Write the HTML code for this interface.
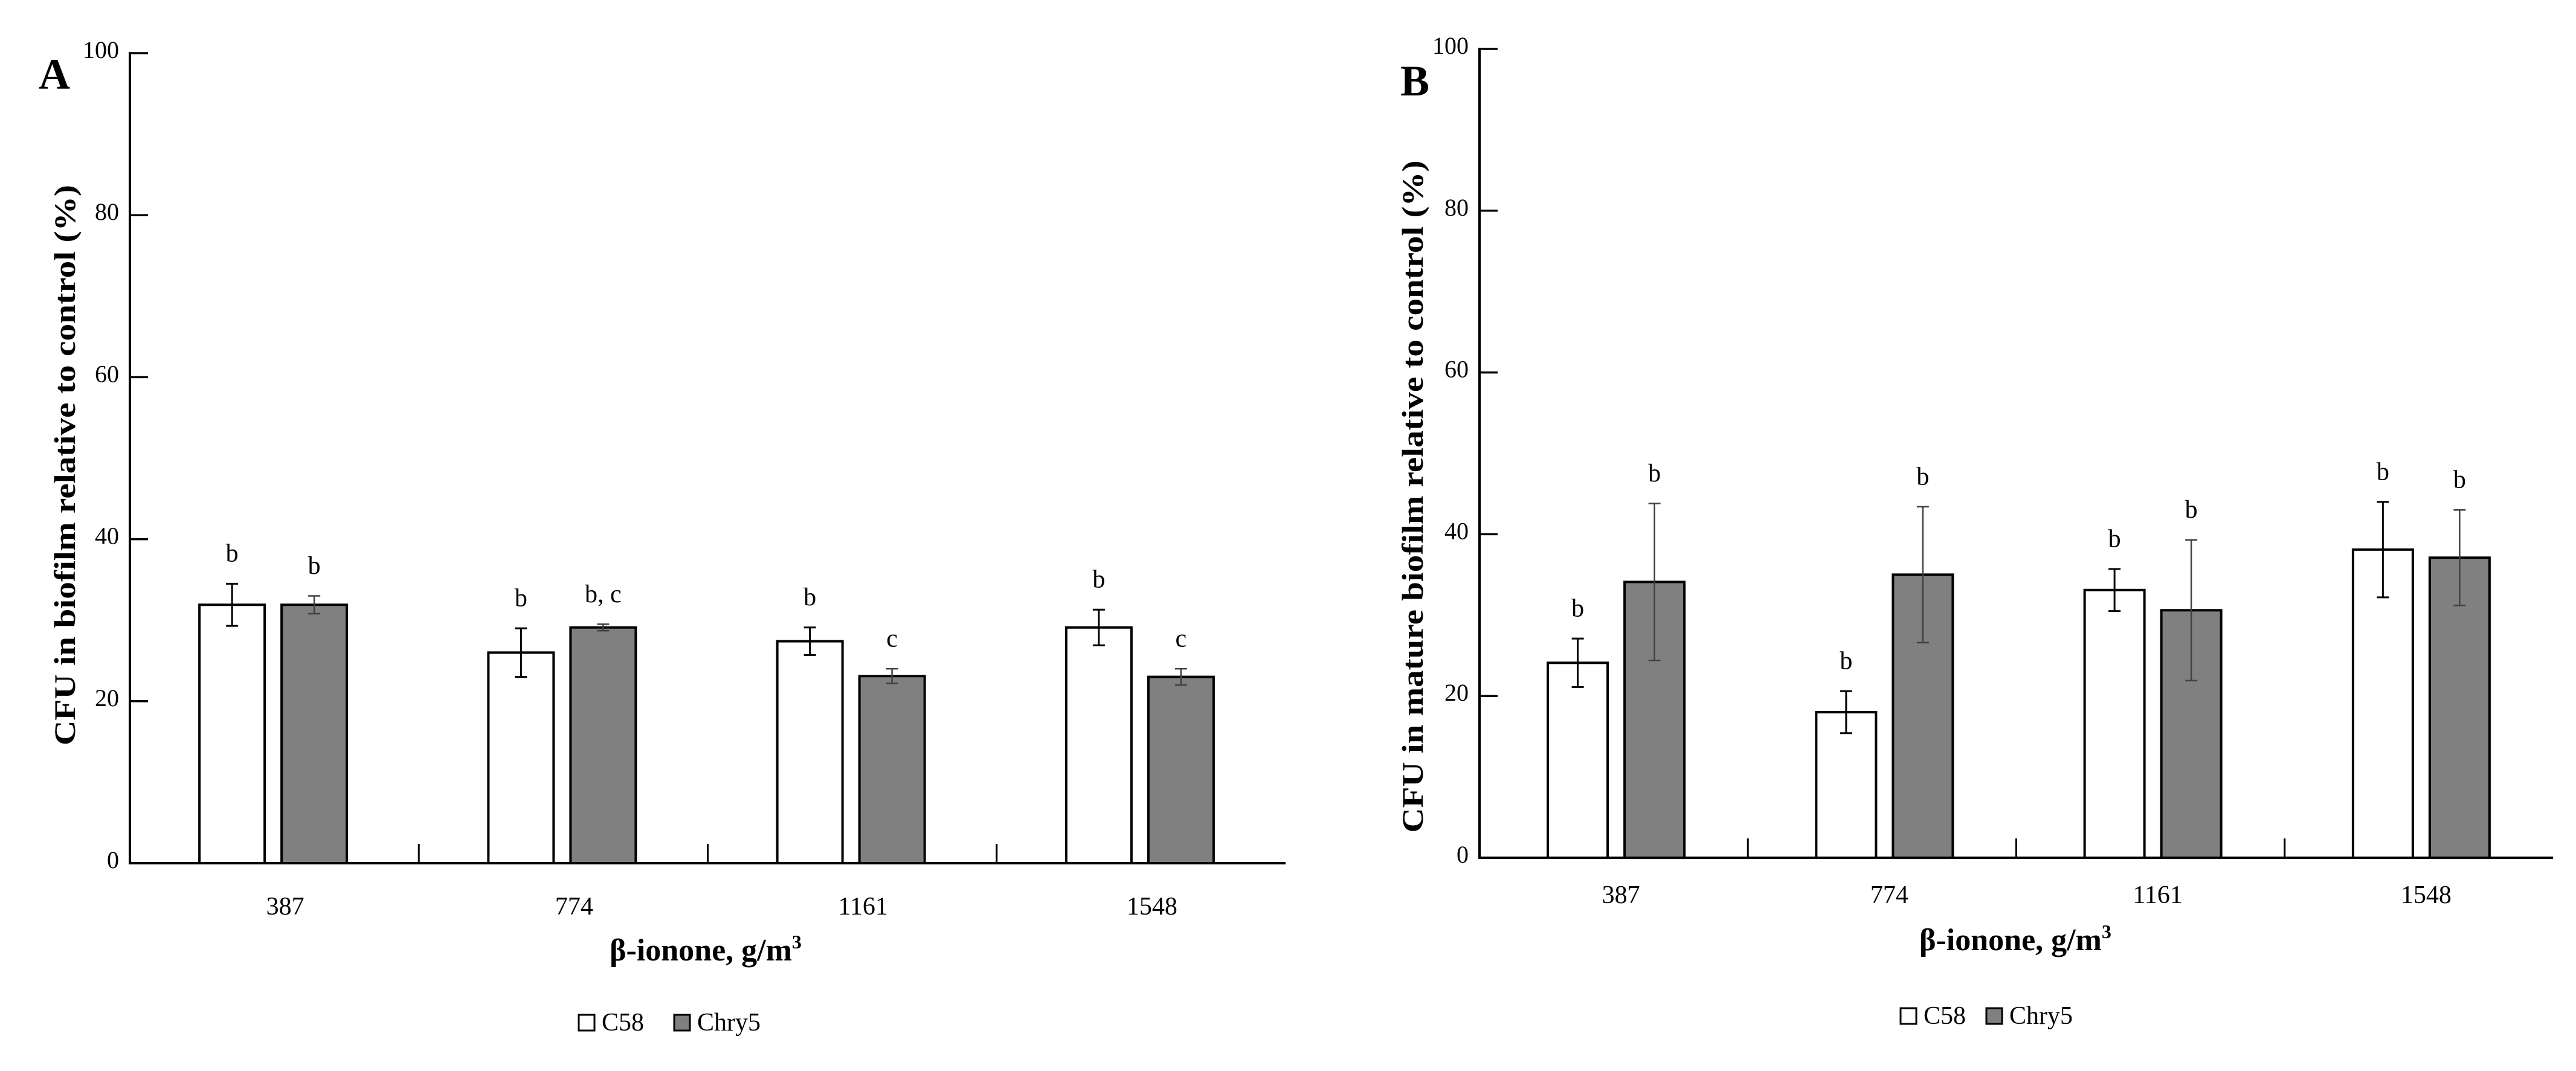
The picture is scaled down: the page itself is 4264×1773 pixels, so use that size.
<!DOCTYPE html>
<html><head><meta charset="utf-8"><style>
html,body{margin:0;padding:0;background:#fff;}
svg{display:block;font-family:"Liberation Serif",serif;}
</style></head><body>
<svg id="fig" width="4264" height="1773" viewBox="0 0 4264 1773">
<g id="panelA"></g>
<g id="panelB"></g>
</svg>
<script>
const categories = ["387", "774", "1161", "1548"];
const yTicks = [0, 20, 40, 60, 80, 100];
const seriesNames = ["C58", "Chry5"];
const aC58 = [31.9, 26.0, 27.4, 29.1];
const aC58Err = [2.6, 3.0, 1.7, 2.2];
const aChry5 = [31.9, 29.1, 23.1, 23.0];
const aChry5Err = [1.1, 0.4, 0.9, 1.0];
const aC58Letters = ["b", "b", "b", "b"];
const aChry5Letters = ["b", "b, c", "c", "c"];
const bC58 = [24.1, 18.0, 33.1, 38.1];
const bC58Err = [3.0, 2.6, 2.6, 5.9];
const bChry5 = [34.1, 35.0, 30.6, 37.1];
const bChry5Err = [9.7, 8.4, 8.7, 5.9];
const bC58Letters = ["b", "b", "b", "b"];
const bChry5Letters = ["b", "b", "b", "b"];

const NS = "http://www.w3.org/2000/svg";
function mk(parent, tag, attrs, text) {
  const e = document.createElementNS(NS, tag);
  for (const k in attrs) e.setAttribute(k, attrs[k]);
  if (text !== undefined) e.textContent = text;
  parent.appendChild(e);
  return e;
}

function drawPanel(g, cfg, c58, c58e, ch, che, l58, lch) {
  const yScale = v => cfg.y0 - (v / 100) * (cfg.y0 - cfg.y100);
  const catW = (cfg.xEnd - cfg.x0) / categories.length;
  const xCenter = i => cfg.x0 + catW * (i + 0.5) + cfg.shift;

  let t = mk(g, "text", {x: cfg.letterX, y: cfg.letterY, "font-size": 72, "font-weight": "bold"}, cfg.letter);
  
  

  t = mk(g, "text", {x: 0, y: 0, "font-size": 50, "font-weight": "bold", "text-anchor": "middle",
    transform: `translate(${cfg.titleX},${cfg.titleY}) rotate(-90)`, textLength: cfg.titleLen, lengthAdjust: "spacingAndGlyphs"}, cfg.yTitle);
  
  

  for (let i = 0; i < categories.length; i++) {
    const c = xCenter(i);
    const sets = [[c58[i], c58e[i], l58[i], c - cfg.gap - cfg.bw, "#ffffff", "#000", "c58"],
                  [ch[i], che[i], lch[i], c + cfg.gap, "#808080", "#404040", "chry5"]];
    for (const s of sets) {
      const [v, e, lab, bx, fill, ecol, nm] = s;
      const r = mk(g, "rect", {x: bx, y: yScale(v), width: cfg.bw, height: yScale(0) - yScale(v), fill: fill, stroke: "#000", "stroke-width": 4});
      
      
      const mx = bx + cfg.bw / 2;
      const eg = mk(g, "g", {stroke: ecol, "stroke-width": nm === "c58" ? 3 : 2.5});
      
      
      mk(eg, "line", {x1: mx, x2: mx, y1: yScale(v + e), y2: yScale(v - e)});
      mk(eg, "line", {x1: mx - 10, x2: mx + 10, y1: yScale(v + e), y2: yScale(v + e)});
      mk(eg, "line", {x1: mx - 10, x2: mx + 10, y1: yScale(v - e), y2: yScale(v - e)});
      const lt = mk(g, "text", {x: mx, y: yScale(v + e + 3.7) + 13, "font-size": 42, "text-anchor": "middle"}, lab);
      
      
    }
    const xl = mk(g, "text", {x: c + cfg.labelShift, y: cfg.xLabelY + 14, "font-size": 42, "text-anchor": "middle"}, categories[i]);
    
    
  }

  const ax = mk(g, "g", {stroke: "#000", "stroke-width": 4, fill: "none"});
  
  
  mk(ax, "line", {x1: cfg.x0, x2: cfg.x0, y1: yScale(100) - 2, y2: yScale(0) + 2});
  mk(ax, "line", {x1: cfg.x0 - 2, x2: cfg.xEnd, y1: yScale(0), y2: yScale(0)});
  for (let i = 1; i < categories.length; i++) {
    const dx = cfg.x0 + catW * i;
    mk(ax, "line", {x1: dx, x2: dx, y1: yScale(0), y2: yScale(0) - 32, "stroke-width": 3});
  }
  for (const tv of yTicks) {
    mk(ax, "line", {x1: cfg.x0, x2: cfg.x0 + 30, y1: yScale(tv), y2: yScale(tv), "stroke-width": 3.5});
    const tl = mk(g, "text", {x: cfg.x0 - 18, y: yScale(tv) + 8, "font-size": 40, "text-anchor": "end"}, String(tv));
    
    
  }

  const xt = mk(g, "text", {x: cfg.xTitleX, y: cfg.xTitleY, "font-size": 52, "font-weight": "bold", "text-anchor": "middle"});
  
  
  xt.appendChild(document.createTextNode("β-ionone, g/m"));
  mk(xt, "tspan", {"font-size": 32, dy: -20}, "3");

  const lg = mk(g, "g", {});
  
  
  const fills = ["#ffffff", "#808080"];
  let lx = cfg.legX;
  for (let k = 0; k < seriesNames.length; k++) {
    const sq = mk(lg, "rect", {x: lx, y: cfg.legY - 26, width: 26, height: 26, fill: fills[k], stroke: "#000", "stroke-width": 3});
    
    
    const lt = mk(lg, "text", {x: lx + 38, y: cfg.legY, "font-size": 42}, seriesNames[k]);
    
    
    lx += cfg.legStep;
  }
}

drawPanel(document.getElementById("panelA"), {
  x0: 215, xEnd: 2128, y0: 1429, y100: 88, shift: -2, bw: 108, gap: 14, labelShift: 20,
  letter: "A", letterX: 64, letterY: 147,
  yTitle: "CFU in biofilm relative to control (%)", titleX: 124, titleY: 770, titleLen: 928,
  xLabelY: 1500, xTitleX: 1168, xTitleY: 1590, legX: 958, legY: 1706, legStep: 158
}, aC58, aC58Err, aChry5, aChry5Err, aC58Letters, aChry5Letters);

drawPanel(document.getElementById("panelB"), {
  x0: 2449, xEnd: 4226, y0: 1420, y100: 81, shift: 4, bw: 99, gap: 14, labelShift: 8,
  letter: "B", letterX: 2318, letterY: 158,
  yTitle: "CFU in mature biofilm relative to control (%)", titleX: 2355, titleY: 822, titleLen: 1113,
  xLabelY: 1481, xTitleX: 3336, xTitleY: 1573, legX: 3146, legY: 1695, legStep: 142
}, bC58, bC58Err, bChry5, bChry5Err, bC58Letters, bChry5Letters);
</script>
</body></html>
